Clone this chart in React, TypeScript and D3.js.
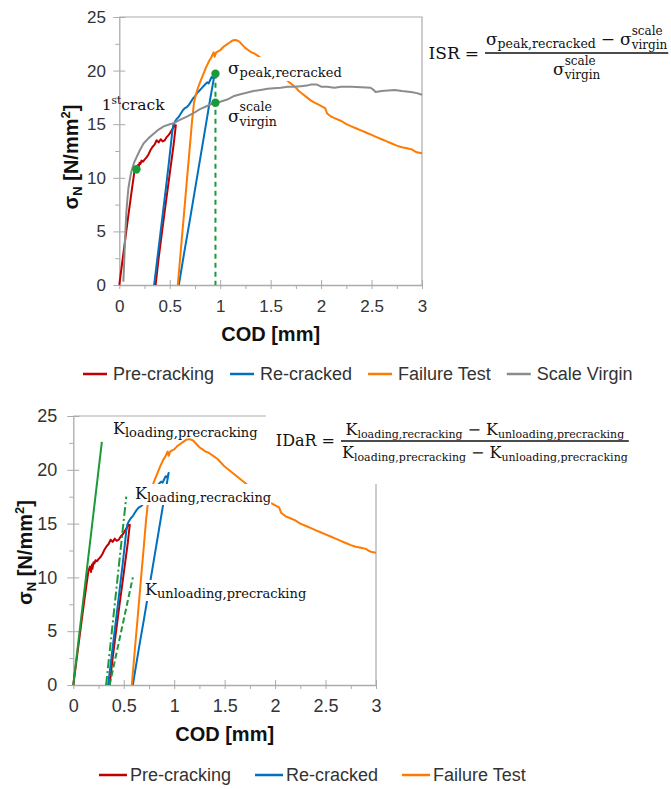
import React, { useEffect, useRef } from 'react';
import * as d3 from 'd3';

// --- data: COD [mm] vs nominal stress [N/mm2] ---
const preCrackCOD = [0, 0.04, 0.08, 0.12, 0.15, 0.165, 0.175, 0.185, 0.19, 0.2, 0.21, 0.22, 0.235, 0.25, 0.27, 0.29, 0.31, 0.33, 0.35, 0.37, 0.39, 0.41, 0.43, 0.45, 0.47, 0.49, 0.51, 0.53, 0.545, 0.555, 0.56, 0.54, 0.5, 0.46, 0.42, 0.39, 0.36];
const preCrackStress = [0, 2.9, 5.8, 8.6, 10.6, 11.0, 10.5, 11.2, 10.8, 11.4, 11.3, 11.6, 11.5, 11.7, 11.9, 12.2, 12.6, 12.9, 13.1, 13.5, 13.3, 13.6, 13.4, 13.5, 13.8, 14.0, 14.3, 14.6, 14.9, 14.8, 14.9, 13.2, 10.4, 7.6, 4.7, 2.5, 0];

const reCrackCOD = [0.345, 0.38, 0.42, 0.46, 0.49, 0.51, 0.525, 0.535, 0.55, 0.57, 0.59, 0.61, 0.63, 0.65, 0.67, 0.69, 0.71, 0.73, 0.75, 0.77, 0.79, 0.81, 0.83, 0.85, 0.87, 0.885, 0.9, 0.915, 0.93, 0.945, 0.9, 0.85, 0.8, 0.75, 0.7, 0.65, 0.59];
const reCrackStress = [0, 2.7, 5.8, 8.9, 11.3, 13.0, 14.3, 14.9, 15.2, 15.5, 15.7, 16.0, 16.3, 16.5, 16.6, 16.8, 17.1, 17.4, 17.6, 17.9, 18.1, 18.3, 18.5, 18.7, 18.9, 18.8, 19.1, 19.4, 19.3, 19.7, 17.3, 14.5, 11.7, 8.9, 6.1, 3.4, 0];

const failureCOD = [0.58, 0.61, 0.64, 0.67, 0.7, 0.72, 0.74, 0.76, 0.78, 0.8, 0.83, 0.86, 0.89, 0.91, 0.925, 0.935, 0.945, 0.96, 0.98, 1.0, 1.03, 1.06, 1.09, 1.12, 1.15, 1.17, 1.19, 1.22, 1.25, 1.28, 1.31, 1.34, 1.37, 1.4, 1.43, 1.46, 1.5, 1.54, 1.58, 1.62, 1.66, 1.7, 1.74, 1.78, 1.82, 1.86, 1.9, 1.94, 1.98, 2.02, 2.04, 2.06, 2.1, 2.15, 2.2, 2.25, 2.3, 2.35, 2.4, 2.45, 2.5, 2.55, 2.6, 2.65, 2.7, 2.75, 2.8, 2.85, 2.9, 2.93, 2.96, 3.0];
const failureStress = [0, 3.3, 6.5, 9.8, 13.0, 15.2, 17.0, 17.8, 18.4, 18.9, 19.6, 20.3, 20.9, 21.2, 21.5, 21.7, 21.3, 21.7, 21.8, 21.9, 22.2, 22.4, 22.6, 22.8, 22.85, 22.8, 22.7, 22.4, 22.1, 21.9, 21.7, 21.6, 21.4, 21.2, 21.0, 20.7, 20.3, 20.0, 19.7, 19.4, 19.1, 18.8, 18.5, 18.1, 17.8, 17.5, 17.2, 17.0, 16.8, 16.6, 16.5, 16.0, 15.7, 15.5, 15.3, 15.0, 14.8, 14.6, 14.4, 14.2, 14.0, 13.8, 13.6, 13.4, 13.2, 13.0, 12.85, 12.75, 12.65, 12.45, 12.35, 12.3];

const virginCOD = [0.04, 0.05, 0.06, 0.07, 0.08, 0.09, 0.1, 0.113, 0.126, 0.15, 0.175, 0.2, 0.24, 0.29, 0.34, 0.39, 0.44, 0.5, 0.54, 0.6, 0.67, 0.73, 0.8, 0.87, 0.94, 1.0, 1.07, 1.13, 1.2, 1.27, 1.33, 1.4, 1.47, 1.53, 1.6, 1.67, 1.73, 1.8, 1.86, 1.9, 1.96, 2.0, 2.06, 2.13, 2.2, 2.3, 2.4, 2.49, 2.52, 2.54, 2.6, 2.73, 2.8, 2.89, 2.95, 3.0];
const virginStress = [0.3, 2.5, 4.8, 6.8, 8.0, 9.0, 9.6, 10.3, 10.8, 11.5, 12.0, 12.5, 13.2, 13.7, 14.1, 14.5, 14.8, 15.0, 15.1, 15.4, 15.7, 16.0, 16.4, 16.7, 17.0, 17.1, 17.3, 17.6, 17.8, 17.95, 18.1, 18.2, 18.3, 18.35, 18.4, 18.5, 18.5, 18.55, 18.6, 18.7, 18.7, 18.5, 18.5, 18.4, 18.5, 18.5, 18.45, 18.4, 18.2, 18.0, 18.1, 18.2, 18.1, 18.0, 17.9, 17.75];

// ISR markers (first crack, peak of re-cracked, virgin curve at same COD)
const firstCrack = [0.17, 10.8];
const isrCOD = 0.953;
const peakRecracked = 19.7;
const virginAtPeak = 17.0;

// stiffness lines on the IDaR panel
const kLoadPreCOD = [0, 0.283];
const kLoadPreStress = [0, 22.6];
const kLoadReCOD = [0.325, 0.525];
const kLoadReStress = [0, 17.5];
const kUnloadPreCOD = [0.36, 0.59];
const kUnloadPreStress = [0, 10];

const xTicks = [0, 0.5, 1, 1.5, 2, 2.5, 3];
const xMinorTicks = [0.25, 0.75, 1.25, 1.75, 2.25, 2.75];
const yTicks = [0, 5, 10, 15, 20, 25];
const yMinorTicks = [2.5, 7.5, 12.5, 17.5, 22.5];

const seriesNames = ['Pre-cracking', 'Re-cracked', 'Failure Test', 'Scale Virgin'];
const seriesColors = ['#c00000', '#0070c0', '#ff7a00', '#8c8c8c'];
const seriesData = [
  [preCrackCOD, preCrackStress],
  [reCrackCOD, reCrackStress],
  [failureCOD, failureStress],
  [virginCOD, virginStress],
];

const GREEN = '#1a9a38';
const AXIS = '#ababab';
const SANS = '"Liberation Sans", Arial, sans-serif';
const SERIF = '"DejaVu Serif", serif';

// draws pieces of math-like text one after the other, returns the group and width
function richText(parent, x, y, pieces) {
  const g = parent.append('g').attr('font-family', SERIF).attr('fill', '#111');
  let cx = x;
  pieces.forEach(p => {
    if (p.gap) { cx += p.gap; return; }
    if (p.sup !== undefined) {
      // super- and subscript stacked on the same x
      const a = g.append('text').attr('x', cx).attr('y', y + p.supDy).attr('font-size', p.size).text(p.sup);
      const b = g.append('text').attr('x', cx).attr('y', y + p.subDy).attr('font-size', p.size).text(p.sub);
      cx += Math.max(a.node().getComputedTextLength(), b.node().getComputedTextLength());
      return;
    }
    const t = g.append('text').attr('x', cx).attr('y', y + (p.dy || 0)).attr('font-size', p.size).text(p.text);
    cx += t.node().getComputedTextLength();
  });
  return { g, width: cx - x };
}

function backdrop(label, pad) {
  const bb = label.g.node().getBBox();
  label.g.insert('rect', ':first-child')
    .attr('x', bb.x - pad).attr('y', bb.y - pad)
    .attr('width', bb.width + pad * 2).attr('height', bb.height + pad * 2)
    .attr('fill', '#fff');
}

function fraction(parent, f) {
  const g = parent.append('g');
  const num = richText(g, f.nx, f.numY, f.num);
  const den = richText(g, f.nx, f.denY, f.den);
  const w = Math.max(num.width, den.width) + 2;
  num.g.attr('transform', `translate(${(w - num.width) / 2},0)`);
  den.g.attr('transform', `translate(${(w - den.width) / 2},0)`);
  g.append('line')
    .attr('x1', f.nx).attr('x2', f.nx + w)
    .attr('y1', f.lineY).attr('y2', f.lineY)
    .attr('stroke', '#111').attr('stroke-width', 1.3);
  const lhs = richText(g, 0, f.lhsY, f.lhs);
  lhs.g.attr('transform', `translate(${f.nx - f.lhsGap - lhs.width},0)`);
  return g;
}

function drawPanel(svg, p) {
  const x = d3.scaleLinear().domain([0, 3]).range([p.left, p.right]);
  const y = d3.scaleLinear().domain([0, 25]).range([p.bottom, p.top]);
  const g = svg.append('g');

  // plot frame: top and right edge
  g.append('path')
    .attr('d', `M${x(0)},${y(25)}H${x(3)}V${y(0)}`)
    .attr('fill', 'none').attr('stroke', AXIS).attr('stroke-width', 1.2);

  // y axis, majors crossing, minors outside
  const yAxis = g.append('g').attr('transform', `translate(${x(0)},0)`)
    .call(d3.axisLeft(y).tickValues(yTicks).tickSize(6).tickSizeOuter(0).tickPadding(p.yPad));
  yAxis.select('.domain').attr('stroke', AXIS).attr('stroke-width', 1.3);
  yAxis.selectAll('.tick line').attr('stroke', AXIS).attr('x1', 6);
  yAxis.selectAll('.tick text').attr('fill', '#333').attr('font-size', p.tickFont).attr('font-family', SANS);
  g.append('g').attr('transform', `translate(${x(0)},0)`)
    .call(d3.axisLeft(y).tickValues(yMinorTicks).tickSize(4).tickFormat(() => ''))
    .call(s => s.select('.domain').remove())
    .selectAll('line').attr('stroke', AXIS);

  // x axis
  const xAxis = g.append('g').attr('transform', `translate(0,${y(0)})`)
    .call(d3.axisBottom(x).tickValues(xTicks).tickFormat(d => String(d)).tickSize(4).tickSizeOuter(0).tickPadding(p.xPad));
  xAxis.select('.domain').attr('stroke', AXIS).attr('stroke-width', 1.3);
  xAxis.selectAll('.tick line').attr('stroke', AXIS).attr('y1', -5);
  xAxis.selectAll('.tick text').attr('fill', '#333').attr('font-size', p.tickFont).attr('font-family', SANS);
  g.append('g').attr('transform', `translate(0,${y(0)})`)
    .call(d3.axisBottom(x).tickValues(xMinorTicks).tickSize(4).tickFormat(() => ''))
    .call(s => s.select('.domain').remove())
    .selectAll('line').attr('stroke', AXIS);

  // axis titles
  g.append('text')
    .attr('x', (x(0) + x(3)) / 2).attr('y', p.codY)
    .attr('text-anchor', 'middle').attr('font-family', SANS).attr('font-weight', 'bold')
    .attr('font-size', p.titleFont).attr('fill', '#111')
    .text('COD [mm]');

  const yt = g.append('text')
    .attr('transform', `translate(${p.titleX},${(y(0) + y(25)) / 2 + p.titleShift}) rotate(-90)`)
    .attr('text-anchor', 'middle').attr('font-family', SANS).attr('font-weight', 'bold')
    .attr('font-size', p.titleFont).attr('fill', '#111');
  yt.append('tspan').text('σ');
  yt.append('tspan').attr('font-size', p.titleFont * 0.65).attr('dy', 4).text('N');
  yt.append('tspan').attr('dy', -4).text(' [N/mm');
  yt.append('tspan').attr('font-size', p.titleFont * 0.65).attr('dy', -8).text('2');
  yt.append('tspan').attr('dy', 8).text(']');

  const line = d3.line().x(d => x(d[0])).y(d => y(d[1]));
  const curves = g.append('g').attr('fill', 'none').attr('stroke-width', 2).attr('stroke-linejoin', 'round');
  p.series.forEach(i => {
    curves.append('path')
      .attr('d', line(d3.zip(seriesData[i][0], seriesData[i][1])))
      .attr('stroke', seriesColors[i]);
  });

  // legend
  const lg = g.append('g').attr('font-family', SANS).attr('font-size', p.legendFont).attr('fill', '#333');
  let lx = p.legendX;
  p.series.forEach(i => {
    lg.append('line')
      .attr('x1', lx).attr('x2', lx + p.legendLine)
      .attr('y1', p.legendY - 6).attr('y2', p.legendY - 6)
      .attr('stroke', seriesColors[i]).attr('stroke-width', 2.5);
    const t = lg.append('text').attr('x', lx + p.legendLine + p.legendGap).attr('y', p.legendY).text(seriesNames[i]);
    lx += p.legendLine + p.legendGap + t.node().getComputedTextLength() + p.legendItemGap;
  });

  return { g, x, y, line };
}

const App = () => {
  const ref = useRef(null);

  useEffect(() => {
    const svg = d3.select(ref.current);
    svg.selectAll('*').remove();

    // ---------- ISR panel ----------
    const top = drawPanel(svg, {
      left: 119.3, right: 422, top: 17, bottom: 285,
      tickFont: 17, yPad: 7.3, xPad: 10.6, titleFont: 20,
      titleX: 78, titleShift: 6, codY: 341,
      legendX: 83, legendY: 380, legendFont: 18, legendLine: 24, legendGap: 6, legendItemGap: 16,
      series: [0, 1, 2, 3],
    });
    const tg = top.g;
    tg.append('line')
      .attr('x1', top.x(isrCOD)).attr('x2', top.x(isrCOD))
      .attr('y1', top.y(peakRecracked)).attr('y2', top.y(0))
      .attr('stroke', GREEN).attr('stroke-width', 2).attr('stroke-dasharray', '5,4');
    tg.selectAll('circle.mk')
      .data([firstCrack, [isrCOD, peakRecracked], [isrCOD, virginAtPeak]])
      .join('circle')
      .attr('cx', d => top.x(d[0])).attr('cy', d => top.y(d[1])).attr('r', 4.2)
      .attr('fill', GREEN);

    richText(tg, 101.7, 110, [
      { text: '1', size: 15.5 },
      { text: 'st', size: 10.5, dy: -6 },
      { text: 'crack', size: 15.5 },
    ]);
    const peakLabel = richText(tg, 228, 74, [
      { text: 'σ', size: 17 },
      { text: 'peak,recracked', size: 13, dy: 3 },
    ]);
    backdrop(peakLabel, 1);
    richText(tg, 228, 122, [
      { text: 'σ', size: 17 },
      { sup: 'scale', sub: 'virgin', size: 12.5, supDy: -11, subDy: 4 },
    ]);

    fraction(tg, {
      nx: 485, lineY: 53, numY: 45, denY: 75, lhsY: 59, lhsGap: 6,
      lhs: [{ text: 'ISR', size: 17 }, { gap: 5 }, { text: '=', size: 17 }],
      num: [
        { text: 'σ', size: 17 },
        { text: 'peak,recracked', size: 12.5, dy: 3 },
        { gap: 5 }, { text: '−', size: 17 }, { gap: 5 },
        { text: 'σ', size: 17 },
        { sup: 'scale', sub: 'virgin', size: 12, supDy: -10.5, subDy: 4 },
      ],
      den: [
        { text: 'σ', size: 17 },
        { sup: 'scale', sub: 'virgin', size: 12, supDy: -10.5, subDy: 4 },
      ],
    });

    // ---------- IDaR panel ----------
    const bot = drawPanel(svg, {
      left: 73.3, right: 376, top: 416, bottom: 685,
      tickFont: 18, yPad: 10, xPad: 10.2, titleFont: 20,
      titleX: 32, titleShift: 2, codY: 741,
      legendX: 99, legendY: 781, legendFont: 18, legendLine: 28, legendGap: 3, legendItemGap: 24,
      series: [0, 1, 2],
    });
    const bg = bot.g;
    const kLines = [
      [kLoadPreCOD, kLoadPreStress, null],
      [kLoadReCOD, kLoadReStress, '9,3,2,3'],
      [kUnloadPreCOD, kUnloadPreStress, '6,3'],
    ];
    kLines.forEach(([c, s, dash]) => {
      bg.append('path')
        .attr('d', bot.line(d3.zip(c, s)))
        .attr('fill', 'none').attr('stroke', GREEN).attr('stroke-width', 2)
        .attr('stroke-dasharray', dash);
    });

    richText(bg, 113, 433.5, [
      { text: 'K', size: 16 },
      { text: 'loading,precracking', size: 13, dy: 3 },
    ]);
    const kRe = richText(bg, 135, 499, [
      { text: 'K', size: 16 },
      { text: 'loading,recracking', size: 13, dy: 3 },
    ]);
    backdrop(kRe, 0);
    const kUn = richText(bg, 145, 595, [
      { text: 'K', size: 16 },
      { text: 'unloading,precracking', size: 13, dy: 3 },
    ]);
    backdrop(kUn, 0);

    const idar = fraction(bg, {
      nx: 341, lineY: 441, numY: 435, denY: 458, lhsY: 446, lhsGap: 6,
      lhs: [{ text: 'IDaR', size: 16 }, { gap: 5 }, { text: '=', size: 16 }],
      num: [
        { text: 'K', size: 16 },
        { text: 'loading,recracking', size: 11, dy: 3 },
        { gap: 5 }, { text: '−', size: 16 }, { gap: 5 },
        { text: 'K', size: 16 },
        { text: 'unloading,precracking', size: 11, dy: 3 },
      ],
      den: [
        { text: 'K', size: 16 },
        { text: 'loading,precracking', size: 11, dy: 3 },
        { gap: 5 }, { text: '−', size: 16 }, { gap: 5 },
        { text: 'K', size: 16 },
        { text: 'unloading,precracking', size: 11, dy: 3 },
      ],
    });
    // the formula's text box hides the top right corner of the frame
    const fb = idar.node().getBBox();
    idar.insert('rect', ':first-child')
      .attr('x', fb.x - 10).attr('y', fb.y - 14)
      .attr('width', 671 - fb.x + 10).attr('height', fb.height + 34)
      .attr('fill', '#fff');
  }, []);

  return (
    <svg
      ref={ref}
      width={671}
      height={789}
      style={{ position: 'absolute', left: 0, top: 0, display: 'block', background: '#fff' }}
    />
  );
};

export default App;
